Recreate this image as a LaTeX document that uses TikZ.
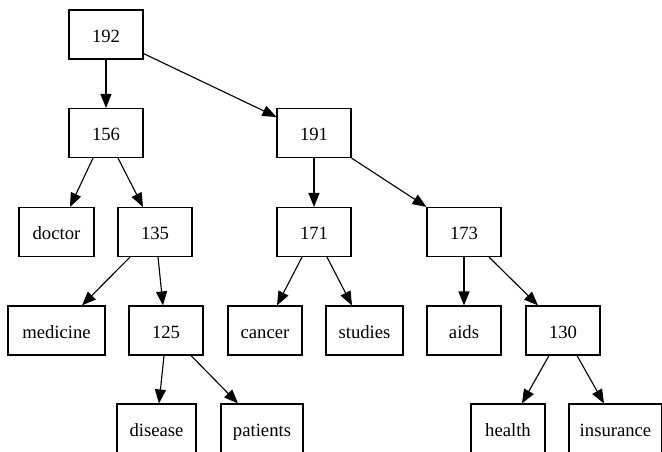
\documentclass[tikz,border=0pt]{standalone}
\usepackage{fontspec}
\setmainfont{Liberation Serif}
\usetikzlibrary{arrows.meta,calc}
\begin{document}
\begin{tikzpicture}[x=0.75pt,y=-0.75pt,
  box/.style={draw=black,line width=0.85pt,inner sep=0pt,minimum height=36.75pt,minimum width=55.5pt,text height=12pt,text depth=0.2pt,font=\fontsize{14}{16}\selectfont},
  edge/.style={draw=black,line width=0.85pt,-{Triangle[length=10.5pt,width=8.25pt]}}]
\useasboundingbox (0,0) rectangle (662,451);
\clip (0,0) rectangle (662,451);
\node[box] (n192) at (106,34.5) {192};
\node[box] (n156) at (106,133) {156};
\node[box] (n191) at (314,133) {191};
\node[box,minimum width=56.25pt] (doctor) at (56.5,232) {doctor};
\node[box] (n135) at (155,232) {135};
\node[box] (n171) at (314,232) {171};
\node[box] (n173) at (464,232) {173};
\node[box,minimum width=72.75pt] (medicine) at (56.5,330.5) {medicine};
\node[box] (n125) at (166,330.5) {125};
\node[box] (cancer) at (265,330.5) {cancer};
\node[box,minimum width=57.75pt] (studies) at (364.5,330.5) {studies};
\node[box] (aids) at (464,330.5) {aids};
\node[box] (n130) at (563,330.5) {130};
\node[box,minimum width=59.25pt] (disease) at (156.5,428.5) {disease};
\node[box,minimum width=61.5pt] (patients) at (262,428.5) {patients};
\node[box] (health) at (508,428.5) {health};
\node[box,minimum width=69.75pt] (insurance) at (615.5,428.5) {insurance};
\draw[edge] (n192.south) -- (n156.north);
\draw[edge] ($(n192.south east)+(0,-6)$) -- ($(n191.north west)+(0,9)$);
\draw[edge] ($(n156.south)+(-13,0)$) -- ($(doctor.north)+(13.5,0)$);
\draw[edge] ($(n156.south)+(12,0)$) -- ($(n135.north)+(-12,0)$);
\draw[edge] (n191.south) -- (n171.north);
\draw[edge] (n191.south east) -- (n173.north west);
\draw[edge] ($(n135.south)+(-25,0)$) -- ($(medicine.north)+(25.5,0)$);
\draw[edge] ($(n135.south)+(3,0)$) -- ($(n125.north)+(-3,0)$);
\draw[edge] ($(n171.south)+(-12,0)$) -- ($(cancer.north)+(12,0)$);
\draw[edge] ($(n171.south)+(13,0)$) -- ($(studies.north)+(-12.5,0)$);
\draw[edge] (n173.south) -- (aids.north);
\draw[edge] ($(n173.south)+(25,0)$) -- ($(n130.north)+(-25,0)$);
\draw[edge] ($(n125.south)+(-2,0)$) -- ($(disease.north)+(2.5,0)$);
\draw[edge] ($(n125.south)+(25,0)$) -- ($(patients.north)+(-24,0)$);
\draw[edge] ($(n130.south)+(-14,0)$) -- ($(health.north)+(14,0)$);
\draw[edge] ($(n130.south)+(14,0)$) -- ($(insurance.north)+(-11.5,0)$);
\end{tikzpicture}
\end{document}
